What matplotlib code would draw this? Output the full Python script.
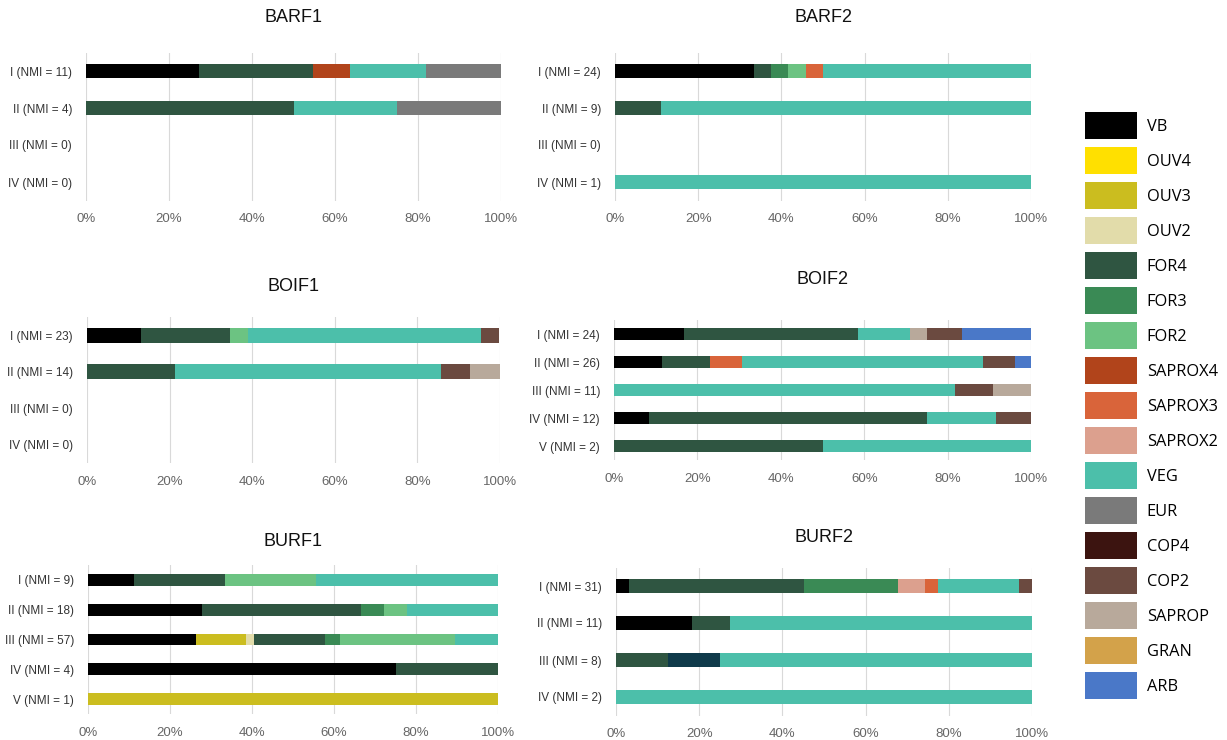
import matplotlib
matplotlib.use("Agg")
import matplotlib.pyplot as plt
from matplotlib.patches import Patch
import numpy as np

W, H = 1227, 740

categories = ["VB", "OUV4", "OUV3", "OUV2", "FOR4", "FOR3", "FOR2", "SAPROX4",
              "SAPROX3", "SAPROX2", "VEG", "EUR", "COP4", "COP2", "SAPROP", "GRAN", "ARB"]
colors = ["#000000", "#ffe000", "#cbbd1f", "#e2dcaa", "#2f5541", "#3a8a55", "#6cc382",
          "#b1441b", "#d9643a", "#dca08e", "#4cbfaa", "#7a7a7a", "#3c1410", "#6b4a40",
          "#b8a99b", "#d3a24a", "#4a78c8"]
extra_cat = "UNK"          # dark blue segment not in legend
extra_color = "#0f3a4a"

# ---- data: percentage of each category per row ----
barf1_rows = ["I (NMI = 11)", "II (NMI = 4)", "III (NMI = 0)", "IV (NMI = 0)"]
barf1 = {"VB": [27.3, 0, 0, 0], "FOR4": [27.3, 50, 0, 0], "SAPROX4": [9.1, 0, 0, 0],
         "VEG": [18.2, 25, 0, 0], "EUR": [18.2, 25, 0, 0]}

barf2_rows = ["I (NMI = 24)", "II (NMI = 9)", "III (NMI = 0)", "IV (NMI = 1)"]
barf2 = {"VB": [33.3, 0, 0, 0], "FOR4": [4.2, 11.1, 0, 0], "FOR3": [4.2, 0, 0, 0],
         "FOR2": [4.2, 0, 0, 0], "SAPROX3": [4.2, 0, 0, 0], "VEG": [50.0, 88.9, 0, 100]}

boif1_rows = ["I (NMI = 23)", "II (NMI = 14)", "III (NMI = 0)", "IV (NMI = 0)"]
boif1 = {"VB": [13.0, 0, 0, 0], "FOR4": [21.7, 21.4, 0, 0], "FOR2": [4.3, 0, 0, 0],
         "VEG": [56.5, 64.3, 0, 0], "COP2": [4.3, 7.1, 0, 0], "SAPROP": [0, 7.1, 0, 0]}

boif2_rows = ["I (NMI = 24)", "II (NMI = 26)", "III (NMI = 11)", "IV (NMI = 12)", "V (NMI = 2)"]
boif2 = {"VB": [16.7, 11.5, 0, 8.3, 0], "FOR4": [41.7, 11.5, 0, 66.7, 50],
         "SAPROX3": [0, 7.7, 0, 0, 0], "VEG": [12.5, 57.7, 81.8, 16.7, 50],
         "SAPROP": [4.2, 0, 0, 0, 0], "COP2": [8.3, 7.7, 9.1, 8.3, 0],
         "ARB": [16.7, 3.8, 0, 0, 0]}
boif2_order = ["VB", "FOR4", "SAPROX3", "VEG", "SAPROP", "COP2", "ARB"]
boif2_tail = {"SAPROP": [0, 0, 9.1, 0, 0]}

burf1_rows = ["I (NMI = 9)", "II (NMI = 18)", "III (NMI = 57)", "IV (NMI = 4)", "V (NMI = 1)"]
burf1 = {"VB": [11.1, 27.8, 26.3, 75, 0], "OUV3": [0, 0, 12.3, 0, 100],
         "OUV2": [0, 0, 1.8, 0, 0], "FOR4": [22.2, 38.9, 17.5, 25, 0],
         "FOR3": [0, 5.6, 3.5, 0, 0], "FOR2": [22.2, 5.6, 28.1, 0, 0],
         "VEG": [44.4, 22.2, 10.5, 0, 0]}

burf2_rows = ["I (NMI = 31)", "II (NMI = 11)", "III (NMI = 8)", "IV (NMI = 2)"]
burf2 = {"VB": [3.2, 18.2, 0, 0], "FOR4": [41.9, 9.1, 12.5, 0], "UNK": [0, 0, 12.5, 0],
         "FOR3": [22.6, 0, 0, 0], "SAPROX2": [6.5, 0, 0, 0], "SAPROX3": [3.2, 0, 0, 0],
         "VEG": [19.4, 72.7, 75.0, 100], "COP2": [3.2, 0, 0, 0]}

xticks = [0, 20, 40, 60, 80, 100]
xticklabels = ["0%", "20%", "40%", "60%", "80%", "100%"]

color_of = dict(zip(categories, colors))
color_of[extra_cat] = extra_color

plt.rcParams['font.family'] = ['Liberation Sans', 'DejaVu Sans']
fig = plt.figure(figsize=(W / 100, H / 100), dpi=100)


def px_axes(left, right, top, bottom):
    return fig.add_axes([left / W, 1 - bottom / H, (right - left) / W, (bottom - top) / H])


def panel(title, rows, data, box, title_y, bar_h, order=None, tail=None):
    left, right, top, bottom = box
    ax = px_axes(left, right, top, bottom)
    y = np.arange(len(rows))
    cum = np.zeros(len(rows))
    keys = order if order else list(data.keys())
    parts = [(k, data[k]) for k in keys]
    if tail:
        parts += list(tail.items())
    for k, vals in parts:
        v = np.array(vals, dtype=float)
        ax.barh(y, v, left=cum, height=bar_h, color=color_of[k], linewidth=0, zorder=3)
        cum += v
    ax.set_xlim(0, 100)
    ax.set_ylim(len(rows) - 0.5, -0.5)
    ax.set_yticks(y)
    ax.set_yticklabels(rows, fontsize=8.5, color="#333333")
    ax.set_xticks(xticks)
    ax.set_xticklabels(xticklabels, fontsize=9.5, color="#666666")
    ax.tick_params(axis='both', length=0)
    ax.tick_params(axis='y', pad=10)
    ax.tick_params(axis='x', pad=9)
    ax.grid(axis='x', color="#d9d9d9", linewidth=0.8, zorder=0)
    for s in ax.spines.values():
        s.set_visible(False)
    fig.text((left + right) / 2 / W, 1 - title_y / H, title, ha='center', va='center',
             fontsize=13, color="#111111")
    return ax


panel("BARF1", barf1_rows, barf1, (86, 501, 52.5, 200.5), 18, 0.4)
panel("BARF2", barf2_rows, barf2, (615, 1031, 52.5, 200.5), 18, 0.4)
panel("BOIF1", boif1_rows, boif1, (87, 500, 317, 463), 287, 0.4)
panel("BOIF2", boif2_rows, boif2, (614, 1031, 320, 460), 280, 0.42, order=boif2_order, tail=boif2_tail)
panel("BURF1", burf1_rows, burf1, (88, 498, 565, 714), 542, 0.4)
panel("BURF2", burf2_rows, burf2, (616, 1032, 567.5, 715.5), 537, 0.4)

handles = [Patch(facecolor=c, edgecolor='none', label=l) for l, c in zip(categories, colors)]
fs = 11.8
fs_px = fs * 100 / 72
hh = (27 / fs_px - 0.245) / 0.65
fig.legend(handles=handles, loc='upper left', bbox_to_anchor=(1085 / W, 1 - 112 / H),
           frameon=False, handlelength=52 / fs_px,
           handleheight=hh, labelspacing=8 / fs_px, handletextpad=0.6,
           borderpad=0, borderaxespad=0, prop={'family': ['Open Sans', 'DejaVu Sans'], 'size': fs})

fig.savefig("out.png", dpi=100)
